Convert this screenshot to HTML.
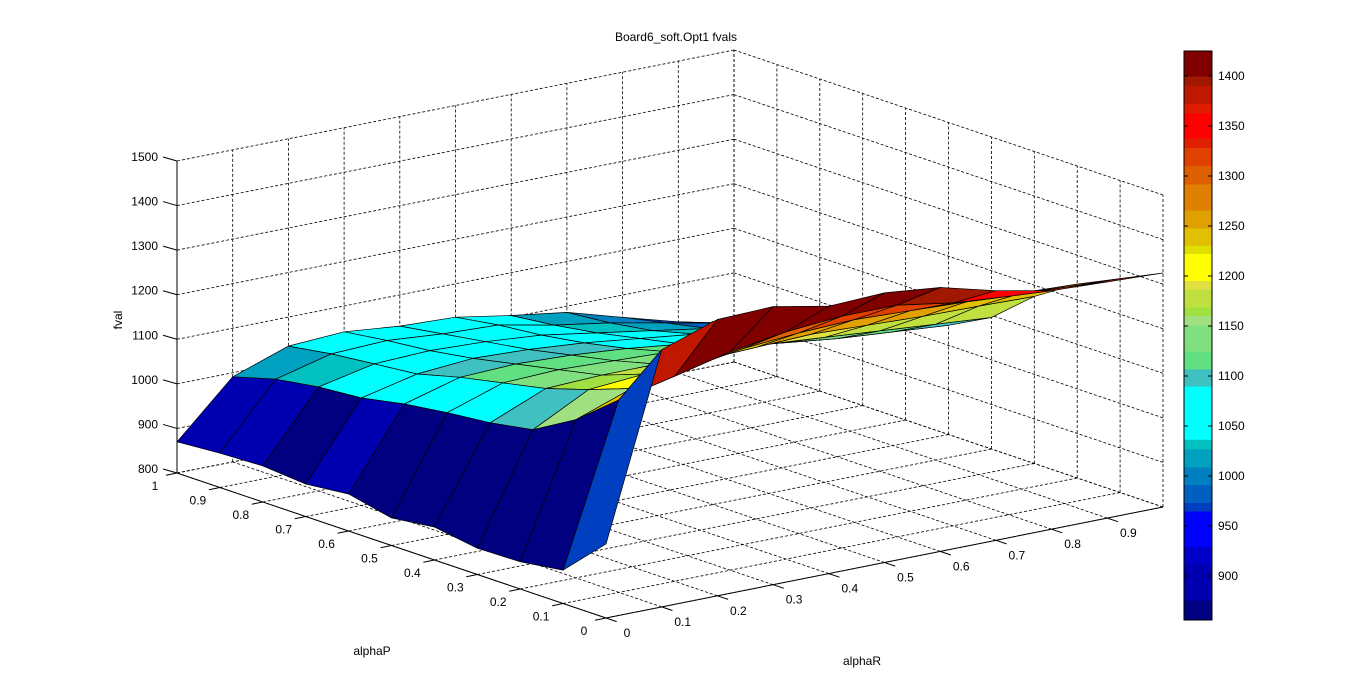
<!DOCTYPE html>
<html>
<head>
<meta charset="utf-8">
<style>
  html,body{margin:0;padding:0;background:#fff;}
  #wrap{position:relative;width:1362px;height:688px;overflow:hidden;background:#fff;}
  svg text{font-family:"Liberation Sans",Arial,sans-serif;font-size:12px;fill:#000;}
</style>
</head>
<body>
<div id="wrap">
<svg id="chart" width="1362" height="688" viewBox="0 0 1362 688">
  <text x="676" y="41" text-anchor="middle">Board6_soft.Opt1 fvals</text>
  <text x="0" y="0" transform="translate(122,320) rotate(-90)" text-anchor="middle">fval</text>
  <text x="372" y="655" text-anchor="middle">alphaP</text>
  <text x="862" y="665" text-anchor="middle">alphaR</text>
  <g id="grid"></g>
  <g id="surf"></g>
  <g id="axes"></g>
  <g id="cbar"></g>
</svg>
</div>
<script>
// ---- data ----
const alphaP = [0,0.1,0.2,0.3,0.4,0.5,0.6,0.7,0.8,0.9,1];
const alphaR = [0,0.1,0.2,0.3,0.4,0.5,0.6,0.7,0.8,0.9,1];
// fval rows: one row per alphaR, values across alphaP (0 -> 1)
const fvalR00 = [966,875,861,859,874,862,883,873,881,877,870];
const fvalR01 = [1377,1232,1155,1100,1083,1073,1060,1041,1033,1018,991];
const fvalR02 = [1420,1260,1200,1165,1135,1115,1095,1070,1060,1050,1035];
const fvalR03 = [1424,1290,1220,1175,1140,1120,1100,1080,1065,1055,1042];
const fvalR04 = [1400,1310,1240,1180,1140,1115,1095,1075,1060,1045,1030];
const fvalR05 = [1405,1320,1250,1185,1140,1110,1085,1065,1050,1040,1025];
const fvalR06 = [1392,1320,1255,1190,1135,1095,1070,1050,1030,1015,1004];
const fvalR07 = [1360,1300,1250,1185,1125,1080,1055,1035,1010,995,986];
const fvalR08 = [1335,1290,1245,1180,1115,1065,1040,1015,990,970,950];
const fvalR09 = [1330,1285,1240,1178,1105,1055,1025,1000,970,945,915];
const fvalR10 = [1325,1280,1235,1175,1095,1045,1010,985,950,915,870];
const fval = [fvalR00,fvalR01,fvalR02,fvalR03,fvalR04,fvalR05,fvalR06,fvalR07,fvalR08,fvalR09,fvalR10];

const zTicks = [800,900,1000,1100,1200,1300,1400,1500];
const pTicks = [0,0.1,0.2,0.3,0.4,0.5,0.6,0.7,0.8,0.9,1];
const pTickLabels = ["0","0.1","0.2","0.3","0.4","0.5","0.6","0.7","0.8","0.9","1"];
const rTicks = [0,0.1,0.2,0.3,0.4,0.5,0.6,0.7,0.8,0.9];
const rTickLabels = ["0","0.1","0.2","0.3","0.4","0.5","0.6","0.7","0.8","0.9"];
const cbarTicks = [900,950,1000,1050,1100,1150,1200,1250,1300,1350,1400];

// custom colormap bands (lower bound of each band, colour)
const bandLo = [848,876,912,929.4,965,973.5,991.5,1009,1027,1036.7,1090,1107,1125,1151,1160.5,1169,1187,1195.6,1222.6,1230.6,1248,1266,1292,1310.4,1328.5,1338,1363,1372.5,1390.6,1400];
const bandColor = ["#000080","#0000b0","#0000c8","#0000ff","#0040c0","#0060c0","#0080c0","#00a0c0","#00c0c0","#00ffff","#40c0c0","#60e080","#80e080","#a0e080","#a0e040","#c0e040","#e0e040","#ffff00","#e0e000","#e0c000","#e0a000","#e08000","#e06000","#e04000","#e02000","#ff0000","#e01c00","#c01800","#a01800","#800000"];
const cbarMin = 856, cbarMax = 1425;

// ---- projection ----
const OX=606, OY=618, RX=557, RY=-111, PXv=-429, PYv=-145, ZS=312/700;
function sx(p,r){return OX+RX*r+PXv*p;}
function sy(p,r,z){return OY+RY*r+PYv*p-(z-800)*ZS;}
function colorOf(v){let c=bandColor[0];for(let i=0;i<bandLo.length;i++){if(v>=bandLo[i])c=bandColor[i];}return c;}
const NS="http://www.w3.org/2000/svg";
function mk(tag,attrs,parent){const e=document.createElementNS(NS,tag);for(const k in attrs)e.setAttribute(k,attrs[k]);parent.appendChild(e);return e;}

const grid=document.getElementById('grid');
const surf=document.getElementById('surf');
const axes=document.getElementById('axes');
const cbar=document.getElementById('cbar');
const dash={"stroke":"#000","stroke-width":"0.8","stroke-dasharray":"3,2","fill":"none"};
function gline(x1,y1,x2,y2,name){
  const l=mk('line',Object.assign({x1:x1,y1:y1,x2:x2,y2:y2},dash),grid);
  
  
}
rTicks.concat([1]).forEach(r=>{gline(sx(0,r),sy(0,r,800),sx(1,r),sy(1,r,800),'floor-gridline-r');});
pTicks.forEach(p=>{gline(sx(p,0),sy(p,0,800),sx(p,1),sy(p,1,800),'floor-gridline-p');});
rTicks.concat([1]).forEach(r=>{gline(sx(1,r),sy(1,r,800),sx(1,r),sy(1,r,1500),'wall-gridline-r');});
zTicks.forEach(z=>{gline(sx(1,0),sy(1,0,z),sx(1,1),sy(1,1,z),'wall-gridline-z');});
pTicks.forEach(p=>{gline(sx(p,1),sy(p,1,800),sx(p,1),sy(p,1,1500),'wall-gridline-p');});
zTicks.forEach(z=>{gline(sx(0,1),sy(0,1,z),sx(1,1),sy(1,1,z),'wall-gridline-z');});

// surface faces
const faces=[];
for(let i=0;i<alphaR.length-1;i++){
  for(let j=0;j<alphaP.length-1;j++){
    const r0=alphaR[i],r1=alphaR[i+1],p0=alphaP[j],p1=alphaP[j+1];
    const pts=[[p0,r0,fval[i][j]],[p1,r0,fval[i][j+1]],[p1,r1,fval[i+1][j+1]],[p0,r1,fval[i+1][j]]];
    const pc=(p0+p1)/2, rc=(r0+r1)/2;
    faces.push({pts:pts,depth:-(PYv*pc+RY*rc),c:colorOf(fval[i][j])});
  }
}
faces.sort((a,b)=>b.depth-a.depth);
faces.forEach(f=>{
  const s=f.pts.map(q=>sx(q[0],q[1]).toFixed(1)+','+sy(q[0],q[1],q[2]).toFixed(1)).join(' ');
  const poly=mk('polygon',{points:s,fill:f.c,stroke:'#000','stroke-width':'0.7','stroke-linejoin':'round'},surf);
  
  
});

// axes
const solid={"stroke":"#000","stroke-width":"1","fill":"none"};
let a1=mk('line',Object.assign({x1:sx(1,0),y1:sy(1,0,800),x2:sx(1,0),y2:sy(1,0,1500)},solid),axes);

let a2=mk('line',Object.assign({x1:sx(1,0),y1:sy(1,0,800),x2:sx(0,0),y2:sy(0,0,800)},solid),axes);

let a3=mk('line',Object.assign({x1:sx(0,0),y1:sy(0,0,800),x2:sx(0,1),y2:sy(0,1,800)},solid),axes);


zTicks.forEach(z=>{
  const x=sx(1,0), y=sy(1,0,z);
  const t=mk('line',Object.assign({x1:x,y1:y,x2:x-14,y2:y-4},solid),axes);
  
  const tx=mk('text',{x:x-19,y:y,'text-anchor':'end'},axes);
  tx.textContent=String(z);
  
});
pTicks.forEach((p,k)=>{
  const x=sx(p,0), y=sy(p,0,800);
  const t=mk('line',Object.assign({x1:x,y1:y,x2:x-11,y2:y+2.2},solid),axes);
  
  const tx=mk('text',{x:x-22,y:y+17,'text-anchor':'middle'},axes);
  tx.textContent=pTickLabels[k];
  
});
rTicks.forEach((r,k)=>{
  const x=sx(0,r), y=sy(0,r,800);
  const t=mk('line',Object.assign({x1:x,y1:y,x2:x+10.7,y2:y+3.6},solid),axes);
  
  const tx=mk('text',{x:x+21,y:y+19,'text-anchor':'middle'},axes);
  tx.textContent=rTickLabels[k];
  
});

// colorbar
const CBX=1184, CBW=28;
function cy(v){return 76+(1400-v);}
for(let i=0;i<bandLo.length;i++){
  const lo=Math.max(bandLo[i],cbarMin), hi=(i+1<bandLo.length)?bandLo[i+1]:cbarMax;
  const b=mk('rect',{x:CBX,y:cy(hi),width:CBW,height:cy(lo)-cy(hi)+0.5,fill:bandColor[i]},cbar);
  
}
const frame=mk('rect',{x:CBX,y:cy(cbarMax),width:CBW,height:cy(cbarMin)-cy(cbarMax),fill:'none',stroke:'#000','stroke-width':'1'},cbar);

cbarTicks.forEach(v=>{
  const y=cy(v);
  const t1=mk('line',{x1:CBX,y1:y,x2:CBX+4,y2:y,stroke:'#000','stroke-width':'1'},cbar);
  
  const t2=mk('line',{x1:CBX+CBW-4,y1:y,x2:CBX+CBW,y2:y,stroke:'#000','stroke-width':'1'},cbar);
  
  const tx=mk('text',{x:CBX+CBW+6,y:y+4},cbar);
  tx.textContent=String(v);
  
});
</script>
</body>
</html>
